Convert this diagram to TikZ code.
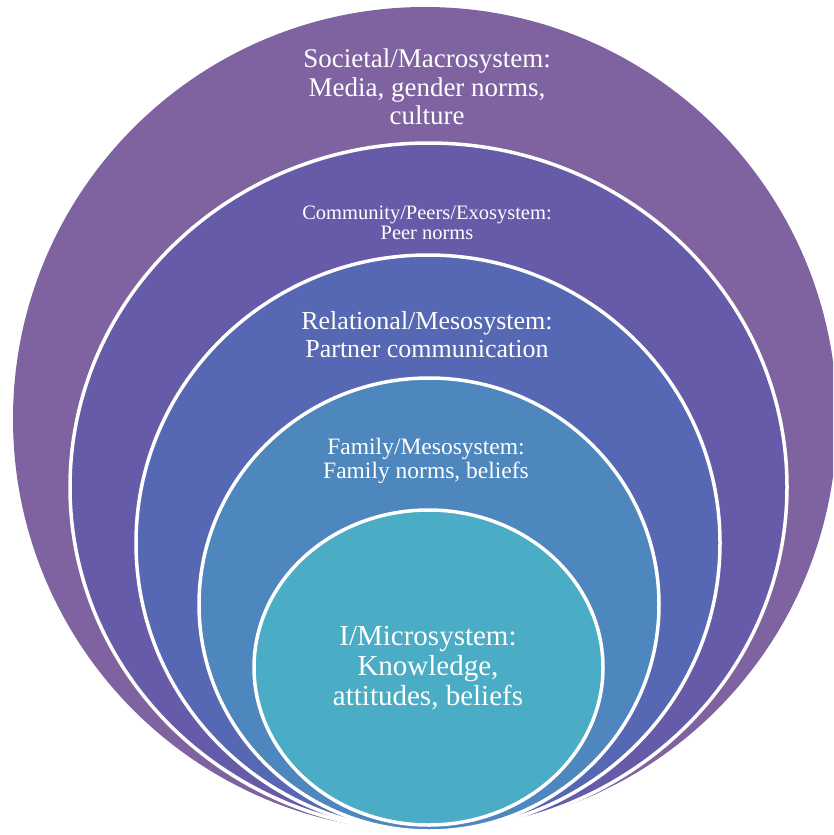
\documentclass[tikz,border=0pt]{standalone}
\usepackage{fontspec}
\setmainfont{Liberation Serif}
\definecolor{macro}{RGB}{127,99,161}
\definecolor{exo}{RGB}{102,91,168}
\definecolor{meso}{RGB}{86,103,179}
\definecolor{family}{RGB}{78,134,190}
\definecolor{micro}{RGB}{74,172,197}
\begin{document}
\begin{tikzpicture}[x=1pt,y=-1pt,
  ring/.style={draw=white,line width=3.5pt},
  lbl/.style={text=white,align=center,inner sep=0pt}]
\useasboundingbox (0,0) rectangle (833,835);
\clip (0,0) rectangle (833,835);
% nested system layers, all meeting near the bottom
\fill[macro] (425,419) ellipse [x radius=412, y radius=412];
\filldraw[ring,fill=exo] (428.5,487) ellipse [x radius=358.5, y radius=344];
\filldraw[ring,fill=meso] (428,543) ellipse [x radius=292, y radius=288];
\filldraw[ring,fill=family] (429,604.5) ellipse [x radius=230, y radius=226.5];
\filldraw[ring,fill=micro] (428.5,667.5) ellipse [x radius=174.5, y radius=157.5];
% layer labels
\node[lbl,font=\fontsize{27}{28.5}\selectfont] (societal) at (427,87)
  {Societal/Macrosystem:\\Media, gender norms,\\culture};
\node[lbl,font=\fontsize{20.5}{20}\selectfont] (community) at (427,223)
  {Community/Peers/Exosystem:\\Peer norms};
\node[lbl,font=\fontsize{26}{28}\selectfont] (relational) at (427,335)
  {Relational/Mesosystem:\\Partner communication};
\node[lbl,font=\fontsize{23.5}{24}\selectfont] (familylbl) at (426,461)
  {Family/Mesosystem:\\Family norms, beliefs};
\node[lbl,font=\fontsize{29}{30}\selectfont] (microlbl) at (428,668)
  {I/Microsystem:\\Knowledge,\\attitudes, beliefs};
\end{tikzpicture}
\end{document}
